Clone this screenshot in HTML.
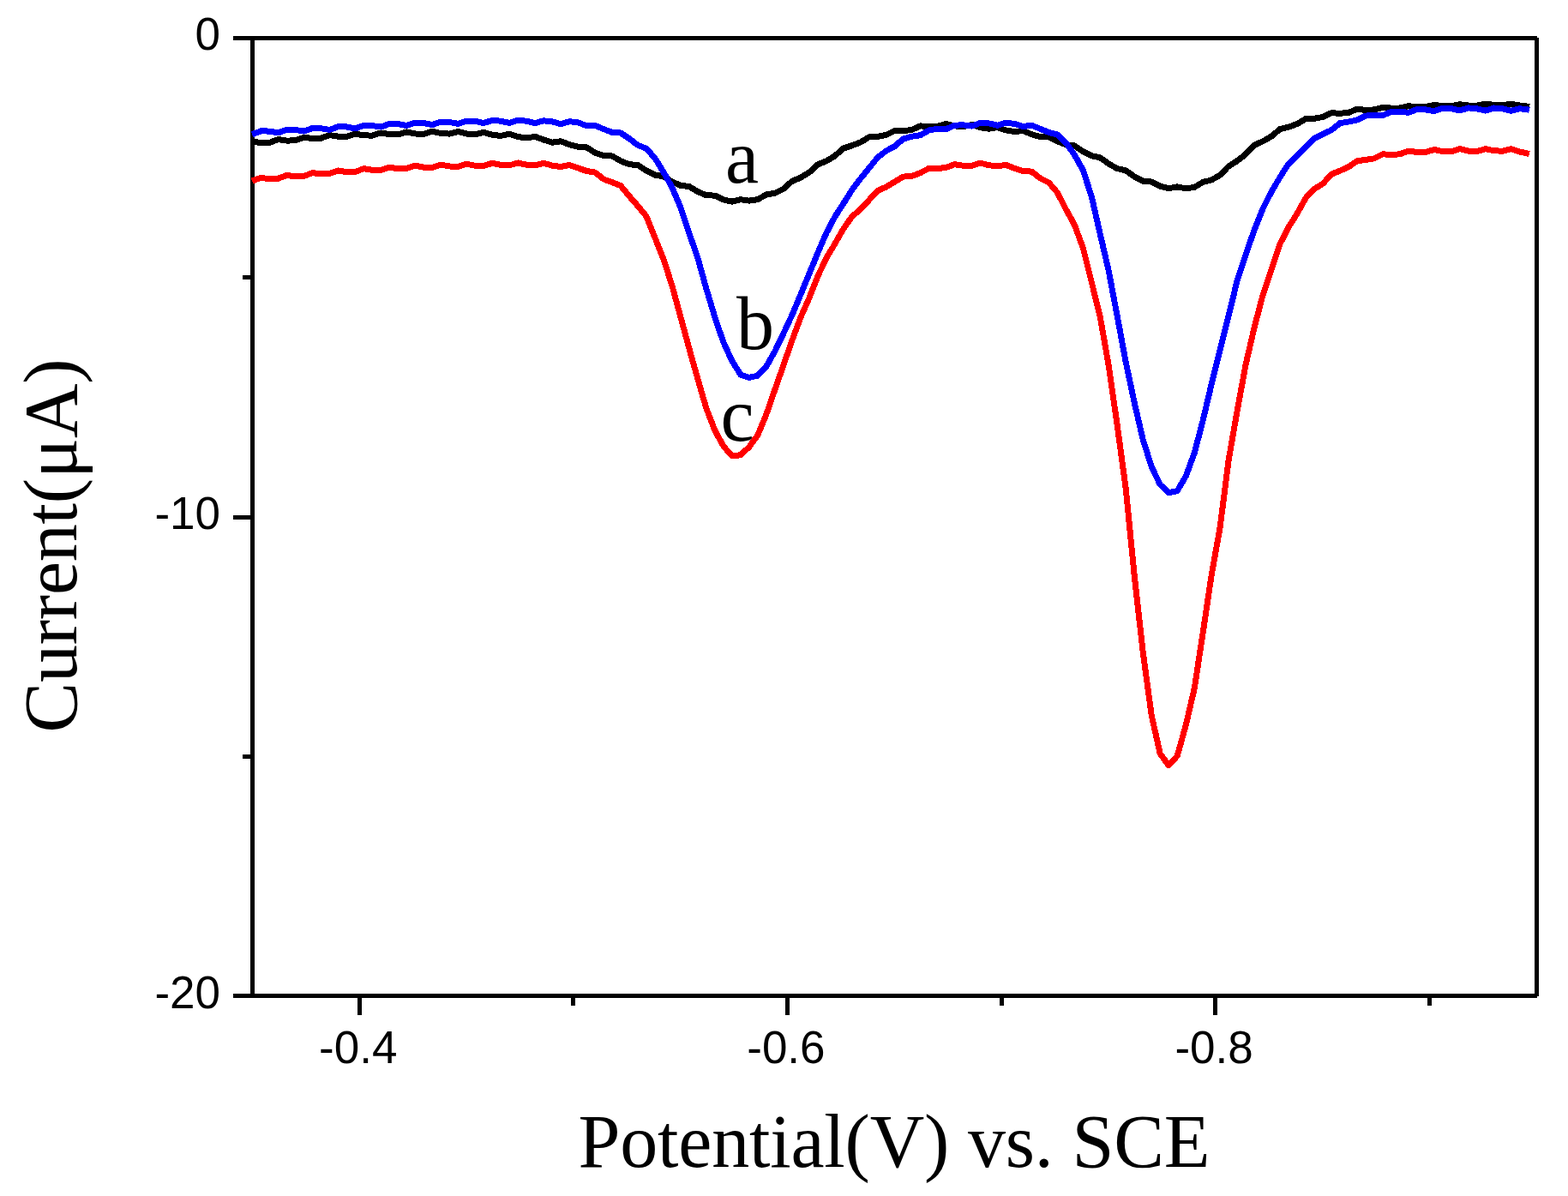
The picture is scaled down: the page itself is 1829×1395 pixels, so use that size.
<!DOCTYPE html>
<html lang="en"><head><meta charset="utf-8"><title>Current vs Potential</title>
<style>html,body{margin:0;padding:0;background:#fff}body{width:1829px;height:1395px;overflow:hidden}svg{display:block}.tk{font-family:"Liberation Sans",sans-serif;font-size:53px;fill:#000}.ti{font-family:"Liberation Serif",serif;font-size:88px;fill:#000}.ax{letter-spacing:-0.2px}</style></head><body>
<svg width="1829" height="1395" viewBox="0 0 1829 1395">
<rect width="1829" height="1395" fill="#fff"/>
<g fill="#000" shape-rendering="crispEdges">
<rect x="272" y="42" width="1521" height="5"/>
<rect x="272" y="1159" width="1521" height="5"/>
<rect x="292" y="42" width="5" height="1122"/>
<rect x="1790" y="44" width="5" height="1118"/>
<rect x="272" y="601" width="20" height="5"/>
<rect x="283" y="321" width="9" height="5"/>
<rect x="283" y="880" width="9" height="5"/>
<rect x="417" y="1164" width="5" height="20"/>
<rect x="916" y="1164" width="5" height="20"/>
<rect x="1415" y="1164" width="5" height="20"/>
<rect x="666" y="1164" width="5" height="9"/>
<rect x="1166" y="1164" width="5" height="9"/>
<rect x="1665" y="1164" width="5" height="9"/>
</g>
<g fill="none" stroke-width="7" stroke-linejoin="round" stroke-linecap="butt" shape-rendering="crispEdges">
<polyline stroke="#000" points="294.0,164.7 304.6,166.8 314.6,166.3 324.6,162.5 334.5,164.1 344.5,163.8 354.5,160.2 364.5,161.6 374.5,161.2 384.5,157.6 394.5,159.2 404.5,159.2 414.4,156.0 424.4,157.9 434.4,158.1 444.4,154.9 454.4,156.8 464.4,157.0 474.4,153.9 484.4,156.0 494.3,156.3 504.3,153.3 514.3,155.5 524.3,156.1 534.3,153.5 544.3,156.0 554.3,156.8 564.2,154.4 574.2,157.3 584.2,158.4 594.2,156.3 604.2,159.5 614.2,161.0 624.2,159.3 634.2,163.1 644.1,166.2 654.1,164.8 664.1,168.5 674.1,171.3 684.1,171.8 694.1,178.1 704.1,181.4 714.1,182.0 724.0,187.8 734.0,191.7 744.0,192.6 754.0,199.1 764.0,204.1 774.0,205.7 784.0,212.0 794.0,216.4 803.9,217.5 813.9,223.6 823.9,227.8 833.9,228.1 843.9,233.0 853.9,235.1 863.9,232.7 873.8,234.1 883.8,232.7 893.8,227.0 903.8,225.3 913.8,220.3 923.8,211.4 933.8,207.2 943.8,201.2 953.7,192.0 963.7,187.9 973.7,182.0 983.7,173.1 993.7,169.8 1003.7,166.0 1013.7,159.9 1023.7,159.4 1033.6,157.4 1043.6,152.4 1053.6,152.7 1063.6,151.4 1073.6,146.9 1083.6,147.7 1093.6,147.4 1103.5,144.4 1113.5,146.9 1123.5,147.7 1133.5,145.5 1143.5,148.7 1153.5,150.2 1163.5,148.5 1173.5,151.9 1183.4,153.6 1193.4,152.4 1203.4,156.7 1213.4,159.6 1223.4,159.6 1233.4,164.9 1243.4,168.8 1253.4,170.0 1263.3,176.8 1273.3,181.8 1283.3,183.8 1293.3,191.1 1303.3,196.6 1313.3,198.9 1323.3,206.1 1333.2,211.1 1343.2,212.0 1353.2,217.1 1363.2,219.7 1373.2,217.9 1383.2,219.8 1393.2,218.4 1403.2,212.4 1413.1,210.0 1423.1,204.2 1433.1,193.9 1443.1,187.7 1453.1,179.9 1463.1,169.3 1473.1,164.8 1483.1,159.0 1493.0,150.6 1503.0,148.1 1513.0,144.6 1523.0,138.6 1533.0,138.3 1543.0,136.5 1553.0,131.7 1562.9,132.3 1572.9,131.4 1582.9,127.3 1592.9,128.4 1602.9,127.9 1612.9,125.3 1622.9,126.1 1632.9,126.0 1642.8,123.8 1652.8,124.6 1662.8,124.5 1672.8,122.5 1682.8,123.6 1692.8,123.7 1702.8,121.8 1712.8,123.0 1722.7,123.1 1732.7,121.2 1742.7,122.4 1752.7,122.7 1762.7,121.3 1772.7,123.1 1782.7,124.2 1783.9,124.5"/>
<polyline stroke="#f00" points="294.0,211.0 304.6,207.4 314.6,208.8 324.6,208.2 334.5,204.4 344.5,205.9 354.5,205.4 364.5,201.6 374.5,202.9 384.5,202.5 394.5,199.0 404.5,200.7 414.4,200.5 424.4,196.6 434.4,198.4 444.4,198.5 454.4,195.2 464.4,196.7 474.4,196.5 484.4,193.2 494.3,195.1 504.3,195.3 514.3,192.1 524.3,194.0 534.3,194.3 544.3,191.3 554.3,193.3 564.2,193.5 574.2,190.3 584.2,192.4 594.2,192.8 604.2,190.0 614.2,192.2 624.2,192.8 634.2,190.3 644.1,193.2 654.1,194.5 664.1,192.5 674.1,196.0 684.1,199.4 694.1,201.1 704.1,209.0 714.1,212.6 724.0,216.6 734.0,228.8 744.0,240.2 754.0,252.4 764.0,277.3 774.0,302.4 784.0,333.3 794.0,370.2 803.9,406.5 813.9,442.1 823.9,476.3 833.9,502.2 843.9,520.4 853.9,532.0 863.9,530.7 873.8,521.4 883.8,507.7 893.8,483.5 903.8,454.7 913.8,426.2 923.8,397.4 933.8,370.5 943.8,347.8 953.7,322.6 963.7,301.3 973.7,284.7 983.7,267.0 993.7,252.8 1003.7,244.0 1013.7,233.4 1023.7,222.4 1033.6,218.1 1043.6,212.0 1053.6,206.1 1063.6,205.4 1073.6,201.6 1083.6,196.3 1093.6,196.5 1103.5,195.5 1113.5,191.7 1123.5,193.2 1133.5,193.2 1143.5,190.1 1153.5,192.7 1163.5,193.9 1173.5,192.3 1183.4,196.5 1193.4,199.6 1203.4,200.1 1213.4,207.9 1223.4,213.0 1233.4,224.6 1243.4,244.2 1253.4,262.3 1263.3,289.2 1273.3,329.1 1283.3,369.8 1293.3,427.0 1303.3,496.6 1313.3,570.6 1323.3,672.4 1333.2,760.7 1343.2,834.3 1353.2,879.0 1363.2,892.8 1373.2,881.7 1383.2,846.1 1393.2,803.1 1403.2,737.8 1413.1,671.2 1423.1,615.2 1433.1,536.9 1443.1,479.4 1453.1,425.1 1463.1,382.0 1473.1,343.9 1483.1,314.0 1493.0,284.6 1503.0,265.1 1513.0,249.2 1523.0,231.0 1533.0,220.5 1543.0,214.3 1553.0,203.3 1562.9,199.2 1572.9,194.8 1582.9,187.8 1592.9,186.4 1602.9,184.9 1612.9,179.8 1622.9,180.5 1632.9,179.8 1642.8,176.0 1652.8,177.5 1662.8,177.5 1672.8,174.5 1682.8,176.6 1692.8,176.7 1702.8,173.7 1712.8,176.1 1722.7,176.6 1732.7,173.7 1742.7,175.8 1752.7,176.2 1762.7,173.8 1772.7,177.0 1782.7,179.2 1783.9,179.5"/>
<polyline stroke="#00f" points="294.0,156.7 304.6,152.8 314.6,153.1 324.6,154.9 334.5,151.2 344.5,151.4 354.5,153.1 364.5,149.5 374.5,149.8 384.5,151.4 394.5,147.7 404.5,148.0 414.4,149.9 424.4,146.4 434.4,146.6 444.4,148.1 454.4,144.4 464.4,144.6 474.4,146.5 484.4,143.1 494.3,143.6 504.3,145.6 514.3,142.1 524.3,142.5 534.3,144.4 544.3,141.0 554.3,141.4 564.2,143.5 574.2,140.4 584.2,141.2 594.2,143.4 604.2,140.3 614.2,141.2 624.2,143.6 634.2,140.8 644.1,141.9 654.1,144.6 664.1,141.7 674.1,142.8 684.1,146.7 694.1,146.3 704.1,150.6 714.1,154.4 724.0,155.0 734.0,161.7 744.0,169.3 754.0,173.3 764.0,184.6 774.0,200.8 784.0,218.7 794.0,242.2 803.9,272.1 813.9,300.8 823.9,336.9 833.9,370.2 843.9,399.3 853.9,421.1 863.9,437.1 873.8,440.5 883.8,438.1 893.8,427.5 903.8,409.9 913.8,389.1 923.8,367.7 933.8,343.9 943.8,319.5 953.7,295.5 963.7,272.2 973.7,253.1 983.7,237.6 993.7,221.7 1003.7,208.4 1013.7,196.1 1023.7,183.7 1033.6,176.0 1043.6,170.6 1053.6,162.0 1063.6,159.2 1073.6,157.7 1083.6,151.9 1093.6,150.3 1103.5,150.8 1113.5,146.2 1123.5,145.8 1133.5,147.1 1143.5,143.4 1153.5,143.9 1163.5,146.2 1173.5,143.2 1183.4,144.4 1193.4,147.6 1203.4,146.2 1213.4,150.3 1223.4,154.5 1233.4,157.0 1243.4,166.7 1253.4,180.7 1263.3,198.5 1273.3,229.2 1283.3,273.2 1293.3,316.2 1303.3,369.3 1313.3,422.8 1323.3,470.1 1333.2,512.7 1343.2,544.4 1353.2,565.2 1363.2,574.8 1373.2,572.6 1383.2,555.5 1393.2,528.5 1403.2,490.3 1413.1,448.3 1423.1,407.9 1433.1,368.4 1443.1,327.3 1453.1,296.8 1463.1,268.3 1473.1,243.2 1483.1,223.6 1493.0,206.8 1503.0,191.1 1513.0,181.6 1523.0,171.7 1533.0,161.3 1543.0,156.6 1553.0,151.7 1562.9,143.7 1572.9,142.0 1582.9,140.0 1592.9,135.1 1602.9,134.4 1612.9,134.6 1622.9,130.4 1632.9,130.1 1642.8,131.4 1652.8,127.6 1662.8,127.9 1672.8,129.7 1682.8,126.2 1692.8,126.7 1702.8,128.9 1712.8,125.9 1722.7,126.8 1732.7,129.1 1742.7,126.0 1752.7,126.7 1762.7,129.2 1772.7,126.7 1782.7,128.0 1783.9,128.3"/>
</g>
<g class="tk">
<text x="417.7" y="1239.6" text-anchor="middle">-0.4</text>
<text x="916.9" y="1239.6" text-anchor="middle">-0.6</text>
<text x="1416.1" y="1239.6" text-anchor="middle">-0.8</text>
<text x="257" y="58.1" text-anchor="end">0</text>
<text x="257" y="617.4" text-anchor="end">-10</text>
<text x="257" y="1176.0" text-anchor="end">-20</text>
</g>
<g class="ti">
<text class="ax" x="1042.9" y="1361" text-anchor="middle">Potential(V) vs. SCE</text>
<text class="ax" transform="translate(88.8,636.6) rotate(-90)" text-anchor="middle">Current(μA)</text>
<text x="846" y="213">a</text>
<text x="859" y="407">b</text>
<text x="840.5" y="513.5">c</text>
</g>
</svg></body></html>
